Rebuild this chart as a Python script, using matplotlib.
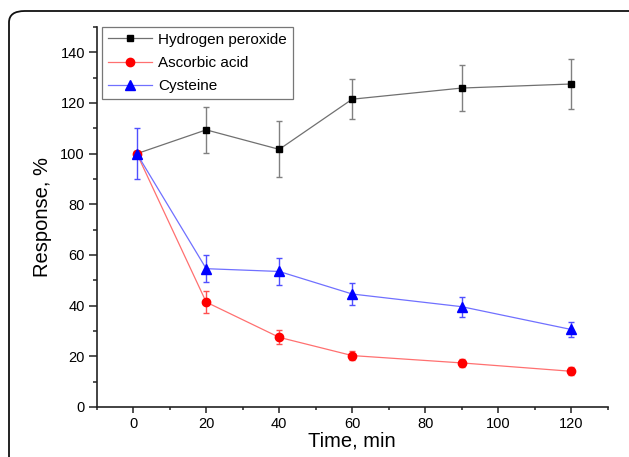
import matplotlib
matplotlib.use("Agg")
import matplotlib.pyplot as plt
from matplotlib.patches import FancyBboxPatch
from matplotlib.lines import Line2D
from matplotlib.ticker import MultipleLocator

plt.rcParams['font.family'] = ['Liberation Sans', 'DejaVu Sans']

time_min = [1, 20, 40, 60, 90, 120]
h2o2 = [100, 109.4, 101.7, 121.5, 125.9, 127.5]
h2o2_err = [0, 9.0, 11.0, 8.0, 9.0, 9.8]
ascorbic = [100, 41.4, 27.5, 20.3, 17.4, 14.1]
ascorbic_err = [0, 4.2, 2.8, 1.8, 1.6, 1.5]
cysteine = [100, 54.6, 53.5, 44.6, 39.6, 30.6]
cysteine_err = [10, 5.4, 5.3, 4.5, 4.0, 3.1]
labels = ["Hydrogen peroxide", "Ascorbic acid", "Cysteine"]

W, H = 629, 457
fig = plt.figure(figsize=(W / 100, H / 100), dpi=100)

# rounded frame around the figure
frame = FancyBboxPatch((9 / W, -0.2), (W + 10) / W, 1.2 - 11 / H,
                       boxstyle="round,pad=0,rounding_size=0.025",
                       transform=fig.transFigure, fill=False,
                       edgecolor='#111111', linewidth=1.3, zorder=0)
fig.patches.append(frame)

ax = fig.add_axes([96.7 / W, 1 - 407 / H, (607.7 - 96.7) / W, (407 - 27) / H])

styles = [
    dict(color='#707070', marker='s', ms=5, mfc='black', mec='black', ecolor='#808080'),
    dict(color='#ff7070', marker='o', ms=6, mfc='red', mec='red', ecolor='#ff5050'),
    dict(color='#7070ff', marker='^', ms=6.5, mfc='blue', mec='blue', ecolor='#5050ff'),
]
series = [(h2o2, h2o2_err), (ascorbic, ascorbic_err), (cysteine, cysteine_err)]
handles = []
for i, ((vals, errs), st, lab) in enumerate(zip(series, styles, labels)):
    ax.errorbar(time_min, vals, yerr=errs, color=st['color'], lw=0.9,
                marker=st['marker'], ms=st['ms'], mfc=st['mfc'], mec=st['mec'],
                ecolor=st['ecolor'], elinewidth=1.0, capsize=2.5, capthick=1.0,
                zorder=3 + i)
    handles.append(Line2D([], [], color=st['color'], lw=0.9, marker=st['marker'],
                          ms=st['ms'], mfc=st['mfc'], mec=st['mec'], label=lab))

ax.set_xlim(-10, 130)
ax.set_ylim(0, 150)
ax.xaxis.set_major_locator(MultipleLocator(20))
ax.xaxis.set_minor_locator(MultipleLocator(10))
ax.yaxis.set_major_locator(MultipleLocator(20))
ax.yaxis.set_minor_locator(MultipleLocator(10))

for s in ['top', 'right']:
    ax.spines[s].set_visible(False)
for s in ['left', 'bottom']:
    ax.spines[s].set_linewidth(1.2)
    ax.spines[s].set_color('#222222')

ax.tick_params(axis='y', which='major', direction='out', length=5.5, width=1.1,
               pad=3, labelsize=10.5, color='#222222')
ax.tick_params(axis='y', which='minor', direction='out', length=3, width=1.1,
               color='#222222')
ax.tick_params(axis='x', which='major', direction='out', length=4.5, width=1.1,
               pad=3, labelsize=10.5, color='#222222')
ax.tick_params(axis='x', which='minor', direction='out', length=2.5, width=1.1,
               color='#222222')

ax.set_xlabel("Time, min", fontsize=14.5, labelpad=0)
ax.set_ylabel("Response, %", fontsize=14.5, labelpad=6)

leg = ax.legend(handles=handles, loc='upper left',
                bbox_to_anchor=(101.7 / W, 1 - 26.7 / H),
                bbox_transform=fig.transFigure, fontsize=11, frameon=True,
                fancybox=False, edgecolor='#555555', borderpad=0.4,
                labelspacing=0.6, handlelength=2.9, handletextpad=0.4,
                borderaxespad=0)
leg.get_frame().set_linewidth(0.9)

fig.savefig("out.png", dpi=100)
